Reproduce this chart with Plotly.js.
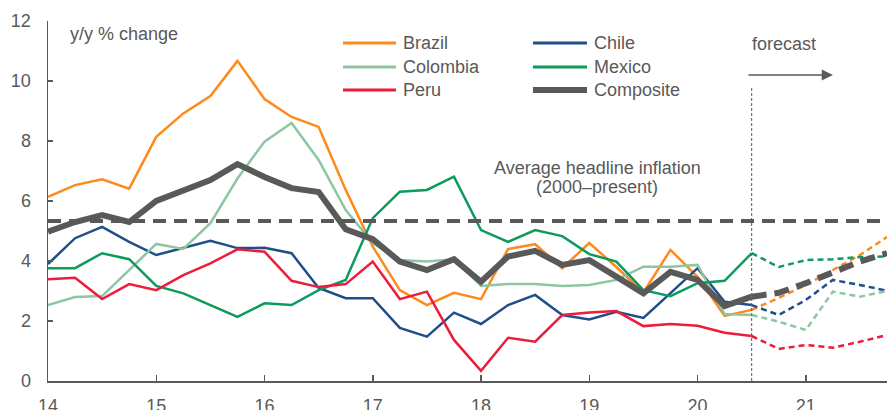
<!DOCTYPE html>
<html>
<head>
<meta charset="utf-8">
<script src="https://cdn.plot.ly/plotly-3.0.1.min.js"></script>
<style>html,body{margin:0;padding:0;background:#fff;}#chart{width:887px;height:410px;}</style>
</head>
<body>
<div id="chart"></div>
<script>
// quarterly time axis (year fraction, 14 = 2014Q1)
const quarters = [14,14.25,14.5,14.75,15,15.25,15.5,15.75,16,16.25,16.5,16.75,17,17.25,17.5,17.75,18,18.25,18.5,18.75,19,19.25,19.5,19.75,20,20.25,20.5,20.75,21,21.25,21.5,21.75];
const forecastStart = 20.5;
const tickYears = [14,15,16,17,18,19,20,21];
const tickLabels = ["14","15","16","17","18","19","20","21"];

const brazil    = [6.14,6.53,6.72,6.41,8.14,8.92,9.5,10.67,9.4,8.8,8.47,6.37,4.48,3.03,2.53,2.94,2.73,4.4,4.56,3.76,4.6,3.8,2.95,4.37,3.47,2.17,2.37,2.77,3.2,3.7,4.2,4.8];
const chile     = [3.9,4.76,5.14,4.64,4.2,4.43,4.67,4.43,4.44,4.26,3.1,2.76,2.76,1.77,1.48,2.28,1.9,2.53,2.87,2.2,2.05,2.31,2.1,2.93,3.76,2.64,2.53,2.2,2.7,3.37,3.2,3.01];
const colombia  = [2.53,2.8,2.83,3.7,4.57,4.4,5.26,6.75,7.98,8.6,7.37,5.7,4.6,4.03,3.98,4.06,3.17,3.23,3.23,3.17,3.2,3.37,3.81,3.81,3.87,2.23,2.2,1.98,1.7,2.98,2.81,3.0];
const mexico    = [3.76,3.76,4.26,4.06,3.17,2.92,2.53,2.14,2.59,2.53,3.03,3.37,5.43,6.31,6.37,6.81,5.03,4.64,5.03,4.83,4.23,3.98,3.03,2.83,3.26,3.34,4.26,3.8,4.03,4.06,4.13,4.15];
const peru      = [3.39,3.44,2.73,3.23,3.03,3.53,3.92,4.39,4.31,3.34,3.13,3.23,3.98,2.73,2.98,1.37,0.34,1.44,1.31,2.2,2.28,2.33,1.83,1.9,1.84,1.61,1.5,1.07,1.2,1.11,1.31,1.53];
const composite = [4.98,5.3,5.53,5.3,6.0,6.35,6.7,7.23,6.8,6.43,6.3,5.06,4.73,3.98,3.7,4.06,3.31,4.15,4.34,3.87,4.03,3.48,2.92,3.64,3.37,2.5,2.81,2.94,3.26,3.64,3.98,4.26];
const averageInflation = 5.33;

const FONT = '"Liberation Sans", Arial, sans-serif';
const GREY = '#595959';

const seriesList = [
  {name:'Brazil',    y:brazil,    color:'#FF8A1C', width:2.5, dash:'6px,4px'},
  {name:'Chile',     y:chile,     color:'#1F4E89', width:2.5, dash:'6px,4px'},
  {name:'Colombia',  y:colombia,  color:'#8CC7A2', width:2.5, dash:'6px,4px'},
  {name:'Mexico',    y:mexico,    color:'#0C9B5C', width:2.5, dash:'6px,4px'},
  {name:'Peru',      y:peru,      color:'#EC1C3A', width:2.5, dash:'6px,4px'},
];
const compositeStyle = {name:'Composite', y:composite, color:GREY, width:6, dash:'15px,8px'};

const iSplit = quarters.indexOf(forecastStart);
const traces = [];
function addSeries(s){
  traces.push({x:quarters.slice(0,iSplit+1), y:s.y.slice(0,iSplit+1), mode:'lines', type:'scatter',
    line:{color:s.color, width:s.width}, showlegend:false, hoverinfo:'skip'});
  traces.push({x:quarters.slice(iSplit), y:s.y.slice(iSplit), mode:'lines', type:'scatter',
    line:{color:s.color, width:s.width, dash:s.dash}, showlegend:false, hoverinfo:'skip'});
}
seriesList.forEach(addSeries);
traces.push({x:[quarters[0], quarters[quarters.length-1]], y:[averageInflation, averageInflation], mode:'lines', type:'scatter',
  line:{color:GREY, width:4, dash:'13px,8px'}, showlegend:false, hoverinfo:'skip'});
addSeries(compositeStyle);

// manual legend (two columns)
const shapes = [];
const annotations = [];
const legendCols = [{x0:0.3516, x1:0.4148, tx:0.4207}, {x0:0.5780, x1:0.6424, tx:0.6484}];
const legendRows = [0.9389, 0.8722, 0.8083];
const legendItems = seriesList.concat([compositeStyle]);
legendItems.forEach((s, k) => {
  const c = legendCols[k % 2], r = legendRows[Math.floor(k/2)];
  shapes.push({type:'line', xref:'paper', yref:'paper', x0:c.x0, x1:c.x1, y0:r, y1:r,
    line:{color:s.color, width:s.width === 6 ? 6 : 3}});
  annotations.push({xref:'paper', yref:'paper', x:c.tx, y:r, text:s.name, showarrow:false,
    xanchor:'left', yanchor:'middle', font:{family:FONT, size:18, color:GREY}});
});

// forecast divider
shapes.push({type:'line', xref:'x', yref:'y', x0:forecastStart, x1:forecastStart, y0:0, y1:9.8,
  line:{color:GREY, width:1, dash:'3px,2px'}});

annotations.push({xref:'paper', yref:'paper', x:0.0238, y:0.9639, text:'y/y % change', showarrow:false,
  xanchor:'left', yanchor:'middle', font:{family:FONT, size:18, color:GREY}});
annotations.push({xref:'paper', yref:'paper', x:0.8367, y:0.935, text:'forecast', showarrow:false,
  xanchor:'left', yanchor:'middle', font:{family:FONT, size:18, color:GREY}});
annotations.push({xref:'paper', yref:'paper', x:0.9356, y:0.85, ax:-86, ay:0, axref:'pixel', ayref:'pixel',
  text:'', showarrow:true, arrowhead:2, arrowsize:1.4, arrowwidth:1.6, arrowcolor:GREY});
annotations.push({xref:'paper', yref:'paper', x:0.6544, y:0.5917, text:'Average headline inflation', showarrow:false,
  xanchor:'center', yanchor:'middle', font:{family:FONT, size:18, color:GREY}});
annotations.push({xref:'paper', yref:'paper', x:0.6544, y:0.5389, text:'(2000–present)', showarrow:false,
  xanchor:'center', yanchor:'middle', font:{family:FONT, size:18, color:GREY}});

const layout = {
  width:887, height:410,
  margin:{l:48, r:0, t:21, b:29},
  paper_bgcolor:'#fff', plot_bgcolor:'#fff',
  showlegend:false,
  font:{family:FONT, size:18, color:GREY},
  xaxis:{range:[quarters[0], quarters[quarters.length-1]], tickvals:tickYears, ticktext:tickLabels,
    showgrid:false, zeroline:false, showline:true, linecolor:GREY, linewidth:1.5,
    ticks:'inside', ticklen:6, tickcolor:GREY, tickwidth:1.5, ticklabelstandoff:8,
    tickfont:{family:FONT, size:18, color:GREY}},
  yaxis:{range:[0,12], tickvals:[0,2,4,6,8,10,12], showgrid:false, zeroline:false, showline:true,
    linecolor:GREY, linewidth:1.5, ticks:'inside', ticklen:5, tickcolor:GREY, tickwidth:1.5,
    ticklabelstandoff:12, tickfont:{family:FONT, size:18, color:GREY}},
  shapes:shapes, annotations:annotations
};
Plotly.newPlot('chart', traces, layout, {staticPlot:true, displayModeBar:false});
</script>
</body>
</html>
